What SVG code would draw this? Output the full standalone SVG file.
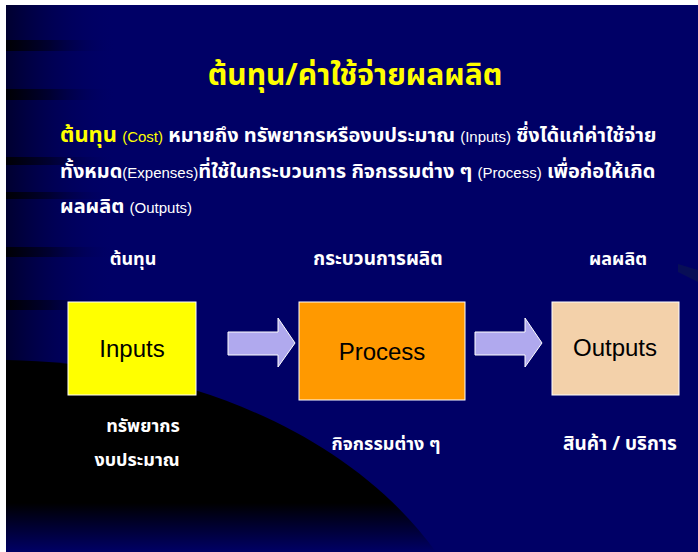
<svg xmlns="http://www.w3.org/2000/svg" width="698" height="552" viewBox="0 0 698 552">
  <defs>
    <linearGradient id="edge" x1="0" y1="0" x2="1" y2="0">
      <stop offset="0" stop-color="#000022" stop-opacity="0.8"/>
      <stop offset="1" stop-color="#000066" stop-opacity="0"/>
    </linearGradient>
    <linearGradient id="streak" x1="0" y1="0" x2="1" y2="0">
      <stop offset="0" stop-color="#000000" stop-opacity="0.9"/>
      <stop offset="0.4" stop-color="#000010" stop-opacity="0.5"/>
      <stop offset="1" stop-color="#000066" stop-opacity="0"/>
    </linearGradient>
    <linearGradient id="bottom" x1="0" y1="0" x2="0" y2="1">
      <stop offset="0" stop-color="#000066" stop-opacity="0"/>
      <stop offset="1" stop-color="#000066" stop-opacity="1"/>
    </linearGradient>
    <style>
      .thai { font-family: "Noto Sans Thai", "Liberation Sans", "DejaVu Sans", sans-serif; font-weight: bold; }
      .w { fill: #ffffff; }
      .y { fill: #ffff00; }
      .en { font-family: "Liberation Sans", Arial, sans-serif; font-weight: normal; font-size: 15px; }
      .lbl { font-size: 18px; text-anchor: middle; }
      .lbl19 { font-size: 19px; }
      .box { stroke: #ffffff; stroke-width: 1; }
      .boxtxt { font-family: "Liberation Sans", Arial, sans-serif; font-size: 24px; fill: #000000; text-anchor: middle; }
      .arrow { fill: #b0a9ee; stroke: #ffffff; stroke-width: 1; }
    </style>
  </defs>

  <!-- background -->
  <rect x="0" y="0" width="698" height="552" fill="#ffffff"/>
  <rect x="6" y="5" width="692" height="547" fill="#000066"/>
  <rect x="6" y="5" width="110" height="547" fill="url(#edge)"/>
  <g fill="url(#streak)">
    <rect x="6" y="40" width="110" height="11"/>
    <rect x="6" y="89" width="110" height="11"/>
    <rect x="6" y="157" width="110" height="8"/>
    <rect x="6" y="192" width="110" height="7"/>
    <rect x="6" y="247" width="110" height="10"/>
    <rect x="6" y="300" width="110" height="10"/>
  </g>
  <path d="M678 264 L698 270 L698 282 L678 272 Z" fill="#0b1450" opacity="0.7"/>
  <path d="M6 360 C160 362 340 420 436 552 L6 552 Z" fill="#000000"/>
  <rect x="6" y="503" width="692" height="49" fill="url(#bottom)"/>

  <!-- title -->
  <text class="thai y" x="355" y="85" font-size="30" text-anchor="middle">ต้นทุน/ค่าใช้จ่ายผลผลิต</text>

  <!-- paragraph -->
  <text class="thai w" x="60" y="142" font-size="20"><tspan class="y" font-size="22">ต้นทุน</tspan> <tspan class="y en">(Cost)</tspan> หมายถึง ทรัพยากรหรืองบประมาณ <tspan class="en">(Inputs)</tspan> ซึ่งได้แก่ค่าใช้จ่าย</text>
  <text class="thai w" x="60" y="178" font-size="20">ทั้งหมด<tspan class="en">(Expenses)</tspan>ที่ใช้ในกระบวนการ กิจกรรมต่าง ๆ <tspan class="en">(Process)</tspan> เพื่อก่อให้เกิด</text>
  <text class="thai w" x="60" y="213" font-size="20">ผลผลิต <tspan class="en">(Outputs)</tspan></text>

  <!-- nodes -->
  <g id="inputs">
    <text class="thai w lbl" x="133" y="265">ต้นทุน</text>
    <rect class="box" x="68" y="302" width="128" height="93" fill="#ffff00"/>
    <text class="boxtxt" x="132" y="357">Inputs</text>
    <text class="thai w lbl" x="143" y="432">ทรัพยากร</text>
    <text class="thai w lbl" x="137" y="466">งบประมาณ</text>
  </g>
  <g id="process">
    <text class="thai w lbl lbl19" x="378" y="265">กระบวนการผลิต</text>
    <rect class="box" x="299" y="302" width="166" height="98" fill="#ff9900"/>
    <text class="boxtxt" x="382" y="360">Process</text>
    <text class="thai w lbl" x="386" y="450">กิจกรรมต่าง ๆ</text>
  </g>
  <g id="outputs">
    <text class="thai w lbl" x="618" y="265">ผลผลิต</text>
    <rect class="box" x="552" y="302" width="127" height="93" fill="#f3d1aa"/>
    <text class="boxtxt" x="615" y="356">Outputs</text>
    <text class="thai w lbl lbl19" x="620" y="450">สินค้า / บริการ</text>
  </g>

  <!-- connectors -->
  <g id="connectors">
    <path class="arrow" d="M228 332 L278 332 L278 318 L295 343 L278 367 L278 355 L228 355 Z"/>
    <path class="arrow" d="M475 332 L525 332 L525 318 L542 343 L525 367 L525 355 L475 355 Z"/>
  </g>
</svg>
